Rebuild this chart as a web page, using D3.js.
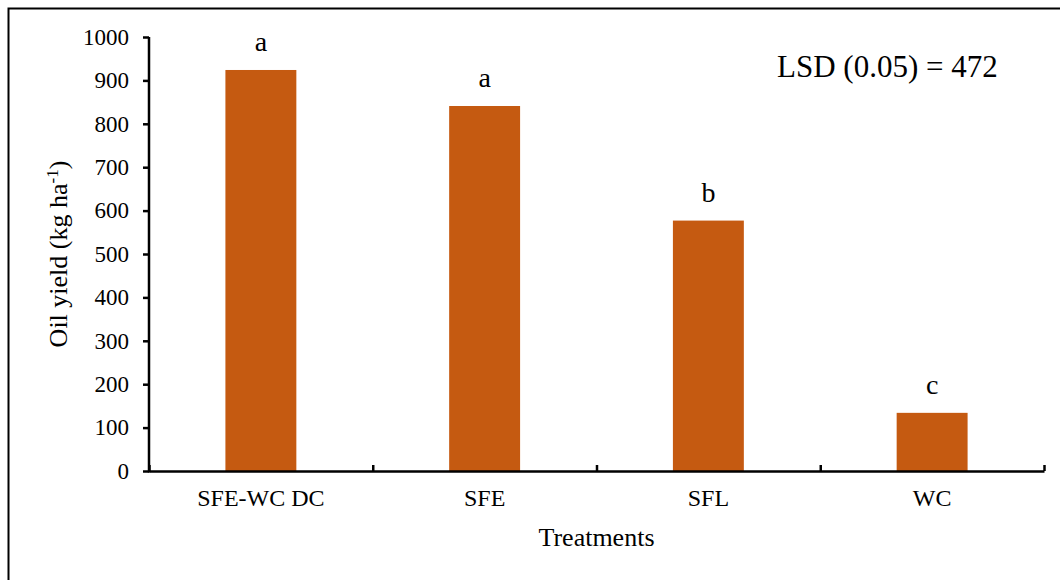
<!DOCTYPE html>
<html>
<head>
<meta charset="utf-8">
<script src="https://cdn.jsdelivr.net/npm/d3@7"></script>
<style>
  html, body { margin: 0; padding: 0; background: #fff; }
  svg { display: block; font-family: "Liberation Serif", "Times New Roman", serif; }
</style>
</head>
<body>
<svg id="chart" width="1060" height="580"></svg>
<script>
// Oil yield by treatment, with mean-separation letters
const treatments = ["SFE-WC DC", "SFE", "SFL", "WC"];
const oilYield = [924, 841, 577, 134];
const groupLetters = ["a", "a", "b", "c"];
const yTicks = [0, 100, 200, 300, 400, 500, 600, 700, 800, 900, 1000];
const lsdLabel = "LSD (0.05) = 472";

const svg = d3.select("#chart");
const plot = { left: 149, right: 1044, top: 37, bottom: 471 };
const barColor = "#C55A11";

// outer frame
svg.append("rect")
  .attr("x", 8.5).attr("y", 8.5)
  .attr("width", 1070).attr("height", 600)
  .attr("fill", "none").attr("stroke", "#000").attr("stroke-width", 2);

const y = d3.scaleLinear().domain([0, 1000]).range([plot.bottom, plot.top]);
const x = d3.scaleBand().domain(treatments)
  .range([plot.left, plot.right])
  .paddingInner(0.683).paddingOuter(0.3415);
const xEdges = d3.scaleLinear().domain([0, treatments.length]).range([plot.left, plot.right]);

// bars
svg.append("g").selectAll("rect")
  .data(treatments)
  .join("rect")
  .attr("x", d => x(d))
  .attr("width", x.bandwidth())
  .attr("y", (d, i) => y(oilYield[i]))
  .attr("height", (d, i) => y(0) - y(oilYield[i]))
  .attr("fill", barColor);

// letters above bars
svg.append("g").selectAll("text")
  .data(treatments)
  .join("text")
  .attr("x", d => x(d) + x.bandwidth() / 2)
  .attr("y", (d, i) => y(oilYield[i]) - 19)
  .attr("text-anchor", "middle")
  .attr("font-size", 28)
  .text((d, i) => groupLetters[i]);

// y axis
const yAxis = svg.append("g")
  .attr("transform", `translate(${plot.left},0)`)
  .call(d3.axisLeft(y).tickValues(yTicks).tickFormat(d3.format("d"))
    .tickSize(6).tickPadding(14).tickSizeOuter(0));
yAxis.select(".domain").attr("stroke-width", 2.5).attr("d", `M0,${plot.top}V${plot.bottom + 1.5}`);
yAxis.selectAll(".tick line").attr("stroke-width", 2.5);
yAxis.selectAll(".tick text").attr("font-size", 23)
  .attr("font-family", "Liberation Serif, serif").attr("fill", "#000");

// x axis: line with inward ticks at category boundaries
const xAxis = svg.append("g")
  .attr("transform", `translate(0,${plot.bottom})`)
  .call(d3.axisBottom(xEdges).ticks(treatments.length).tickSize(-6).tickSizeOuter(0).tickFormat(""));
xAxis.select(".domain").attr("stroke-width", 2.5);
xAxis.selectAll(".tick line").attr("stroke-width", 2.5);

// category labels
svg.append("g").selectAll("text")
  .data(treatments)
  .join("text")
  .attr("x", d => x(d) + x.bandwidth() / 2)
  .attr("y", 506)
  .attr("text-anchor", "middle")
  .attr("font-size", 24)
  .text(d => d);

// axis titles
svg.append("text")
  .attr("x", (plot.left + plot.right) / 2)
  .attr("y", 546)
  .attr("text-anchor", "middle")
  .attr("font-size", 26)
  .text("Treatments");

const yTitle = svg.append("text")
  .attr("transform", `translate(67,${(plot.top + plot.bottom) / 2}) rotate(-90)`)
  .attr("text-anchor", "middle")
  .attr("font-size", 26);
yTitle.append("tspan").text("Oil yield (kg ha");
yTitle.append("tspan").attr("font-size", 17).attr("baseline-shift", "super").text("-1");
yTitle.append("tspan").text(")");

// LSD annotation
svg.append("text")
  .attr("x", 777)
  .attr("y", 77)
  .attr("font-size", 31)
  .text(lsdLabel);
</script>
</body>
</html>
